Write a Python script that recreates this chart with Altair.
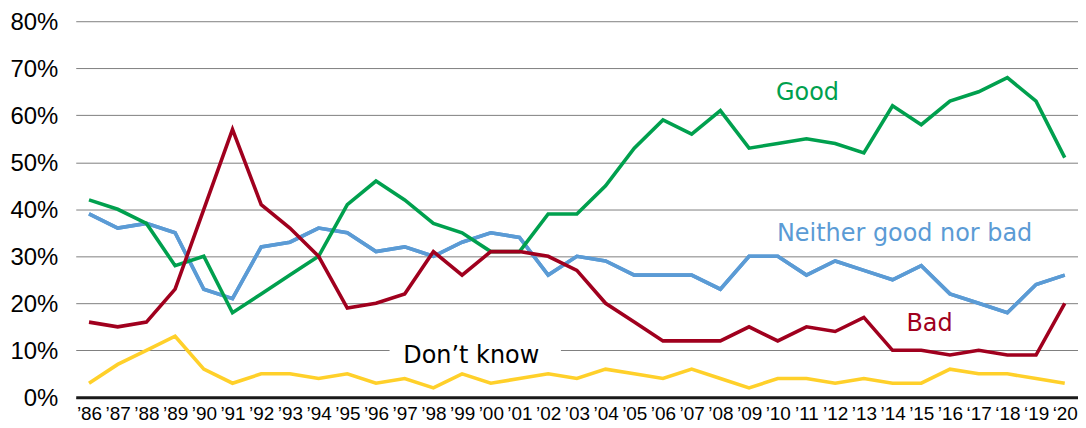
import altair as alt
import pandas as pd

years = ["’86", "’87", "’88", "’89", "’90", "’91", "’92", "’93", "’94", "’95",
         "’96", "’97", "’98", "’99", "’00", "’01", "’02", "’03", "’04", "’05",
         "’06", "’07", "’08", "’09", "’10", "’11", "’12", "’13", "’14", "’15",
         "’16", "‘17", "‘18", "‘19", "‘20"]

good = [42, 40, 37, 28, 30, 18, 22, 26, 30, 41, 46, 42, 37, 35, 31, 31, 39, 39, 45, 53,
        59, 56, 61, 53, 54, 55, 54, 52, 62, 58, 63, 65, 68, 63, 51]
neither = [39, 36, 37, 35, 23, 21, 32, 33, 36, 35, 31, 32, 30, 33, 35, 34, 26, 30, 29, 26,
           26, 26, 23, 30, 30, 26, 29, 27, 25, 28, 22, 20, 18, 24, 26]
bad = [16, 15, 16, 23, 40, 57, 41, 36, 30, 19, 20, 22, 31, 26, 31, 31, 30, 27, 20, 16,
       12, 12, 12, 15, 12, 15, 14, 17, 10, 10, 9, 10, 9, 9, 20]
dont_know = [3, 7, 10, 13, 6, 3, 5, 5, 4, 5, 3, 4, 2, 5, 3, 4, 5, 4, 6, 5,
             4, 6, 4, 2, 4, 4, 3, 4, 3, 3, 6, 5, 5, 4, 3]

series_names = ["Neither good nor bad", "Good", "Bad", "Don’t know"]
series_values = [neither, good, bad, dont_know]
series_colors = ["#5B9BD5", "#00A04E", "#A0001E", "#FFD02A"]

y_ticks = [0, 10, 20, 30, 40, 50, 60, 70, 80]

rows = []
for name, vals in zip(series_names, series_values):
    for yr, v in zip(years, vals):
        rows.append({"year": yr, "value": v, "series": name})
df = pd.DataFrame(rows)

TOP = 12.5
W, H = 1006, 390 - TOP

x_enc = alt.X("year:O", scale=alt.Scale(type="point", padding=0.462, domain=years),
              axis=alt.Axis(title=None, labelAngle=0, ticks=False, domain=True,
                            domainColor="#1a1a1a", domainWidth=3, labelOverlap=False,
                            labelFont="Liberation Sans", labelFontSize=19,
                            labelColor="#000000", labelPadding=7, grid=False))
y_enc = alt.Y("value:Q", scale=alt.Scale(domain=[0, 80], nice=False),
              axis=alt.Axis(title=None, values=y_ticks, ticks=False, domain=False,
                            grid=True, gridColor="#808080", gridWidth=1,
                            labelExpr="datum.value + '%'", labelFont="Liberation Sans",
                            labelFontSize=24, labelColor="#000000", labelPadding=18,
                            labelOffset=1))

base = alt.Chart(df)

# white box behind "Don't know" (plot-area pixel offsets)
dy = 11.4 - TOP
box = alt.Chart(pd.DataFrame({"k": [0]})).mark_rect(color="white").encode(
    x=alt.value(315), x2=alt.value(487), y=alt.value(321 + dy), y2=alt.value(349 + dy))

lines = []
for name, col in zip(series_names, series_colors):
    lines.append(
        base.transform_filter(alt.datum.series == name)
        .mark_line(color=col, strokeWidth=3.6, strokeJoin="miter")
        .encode(x=x_enc, y=y_enc)
    )

ann_text = ["Good", "Neither good nor bad", "Bad", "Don’t know"]
ann_color = ["#00A04E", "#5B9BD5", "#A0001E", "#000000"]
ann_pos = [(734.5, 80), (832, 221.6), (857, 312.3), (397, 344)]

texts = []
for t, c, (px, py) in zip(ann_text, ann_color, ann_pos):
    texts.append(
        alt.Chart(pd.DataFrame({"t": [t]})).mark_text(
            font="DejaVu Sans", fontSize=24, color=c, align="center",
            baseline="alphabetic").encode(text="t:N", x=alt.value(px), y=alt.value(py + dy))
    )

chart = alt.layer(lines[0].encode(), box, *lines, *texts).properties(
    width=W, height=H,
    autosize=alt.AutoSizeParams(type="none"),
    padding={"left": 68, "top": TOP, "right": 0, "bottom": 28},
).configure_view(stroke=None)

chart.save("out.html", embed_options={"renderer": "svg", "actions": False})
